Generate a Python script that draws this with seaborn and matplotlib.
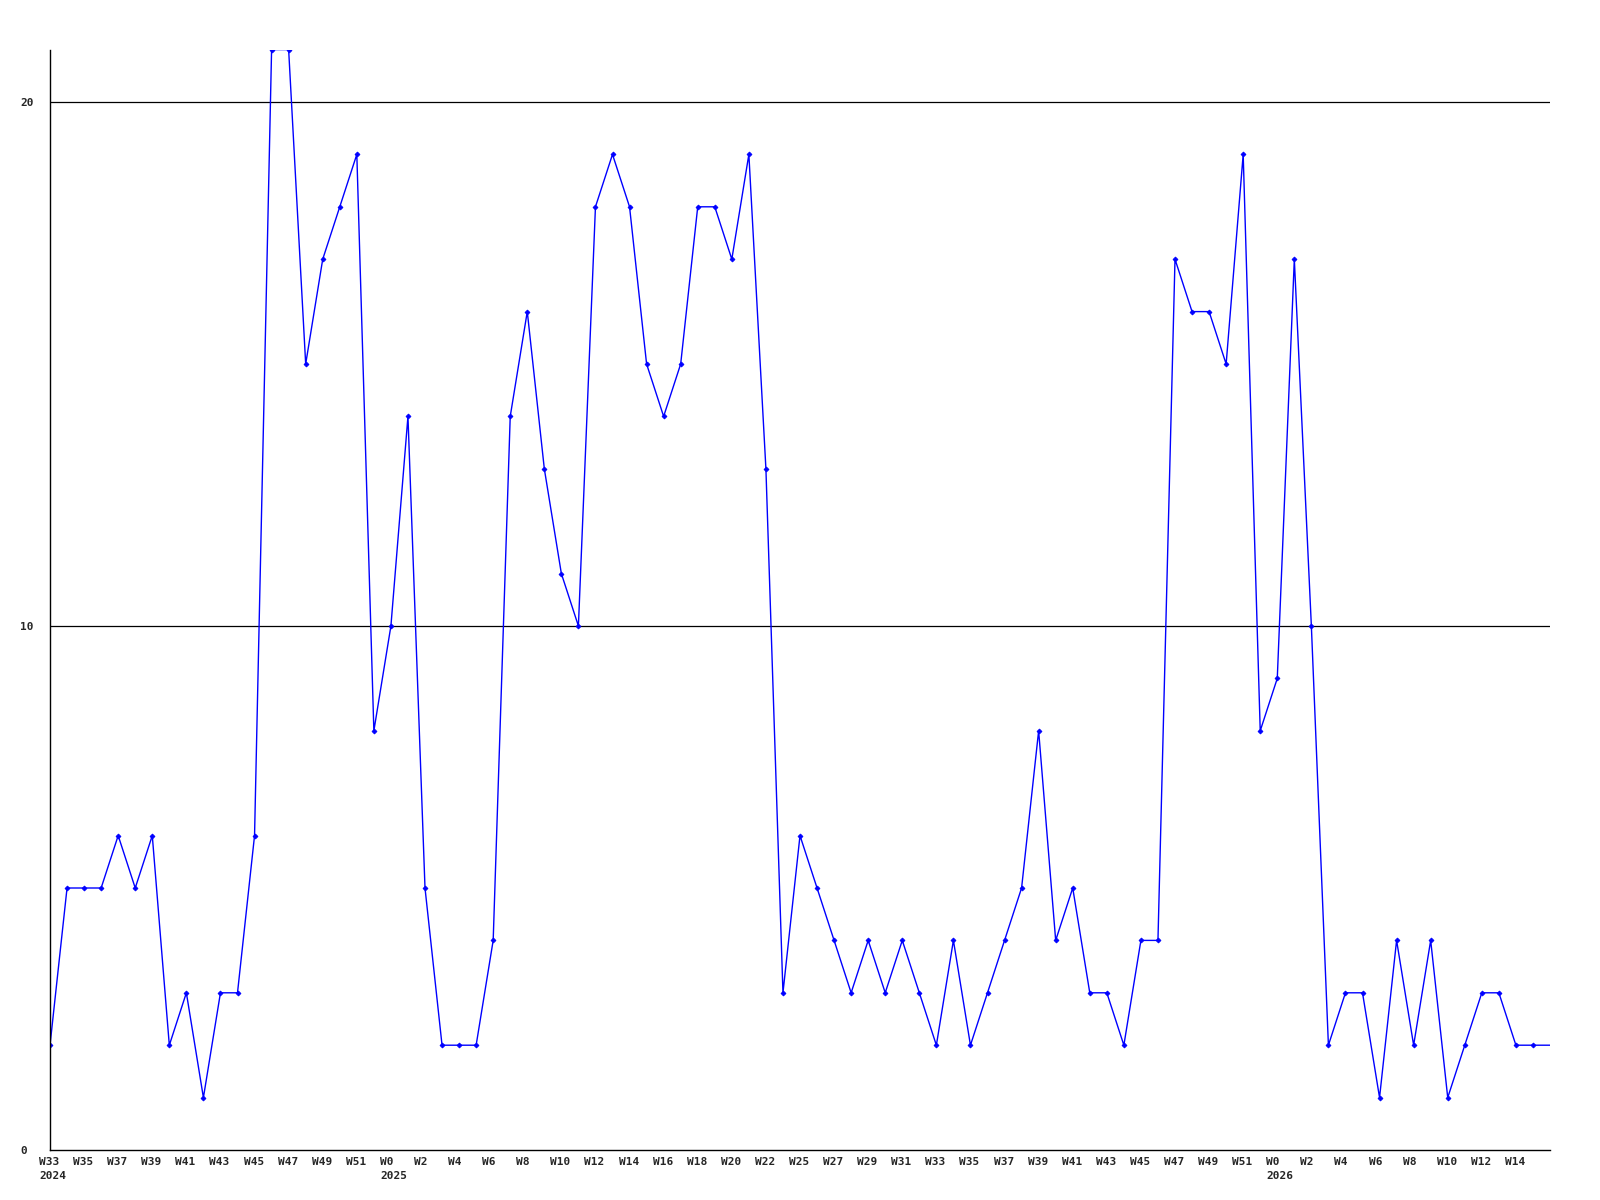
import numpy as np
import pandas as pd
import matplotlib
matplotlib.use("Agg")
import matplotlib.pyplot as plt
import matplotlib.transforms as mtransforms
import seaborn as sns

# week numbers per year (W24 of 2025 is missing in the data)
weeks_2024 = list(range(33, 53))
weeks_2025 = list(range(0, 24)) + list(range(25, 53))
weeks_2026 = list(range(0, 17))
weeks = weeks_2024 + weeks_2025 + weeks_2026
years = [2024] * len(weeks_2024) + [2025] * len(weeks_2025) + [2026] * len(weeks_2026)

values = [2, 5, 5, 5, 6, 5, 6, 2, 3, 1, 3, 3, 6, 21, 21, 15, 17, 18, 19, 8,
          10, 14, 5, 2, 2, 2, 4, 14, 16, 13, 11, 10, 18, 19, 18, 15, 14, 15, 18, 18,
          17, 19, 13, 3, 6, 5, 4, 3, 4, 3, 4, 3, 2, 4, 2, 3, 4, 5, 8, 4,
          5, 3, 3, 2, 4, 4, 17, 16, 16, 15, 19, 8, 9, 17, 10, 2, 3, 3, 1, 4,
          2, 4, 1, 2, 3, 3, 2, 2, 2]

df = pd.DataFrame({"pos": np.arange(len(values)), "week": weeks, "year": years, "value": values})

sns.set_style("white")
plt.rcParams['font.family'] = ['DejaVu Sans Mono']

fig = plt.figure(figsize=(16, 12), dpi=100)
ax = fig.add_axes([50 / 1600, 1 - 1150 / 1200, 1500 / 1600, 1100.4 / 1200])

# last week is incomplete: no marker on it
sns.lineplot(data=df, x="pos", y="value", color="blue", linewidth=1.0,
             marker="D", markersize=2.5, markeredgewidth=0.6, markeredgecolor="blue",
             markevery=list(range(len(values) - 1)), ax=ax)

ax.set_xlim(0, len(values) - 1)
ax.set_ylim(0, 21)

ax.set_yticks([0, 10, 20])
ax.set_yticklabels(["0", "10", "20"], fontweight="bold", fontsize=8)
for lab in ax.get_yticklabels():
    lab.set_ha("left")
ax.tick_params(axis="y", length=0, pad=21.6)

ax.grid(False)
for v in [10, 20]:
    ax.axhline(v, color="black", linewidth=0.9, zorder=0)

tick_pos = list(range(0, len(values) - 2, 2))
tick_labels = []
prev_year = None
for p in tick_pos:
    lab = "W%d" % df["week"][p]
    if df["year"][p] != prev_year:
        lab += "\n%d" % df["year"][p]
        prev_year = df["year"][p]
    tick_labels.append(lab)
ax.set_xticks(tick_pos)
ax.set_xticklabels(tick_labels, fontweight="bold", fontsize=8, linespacing=1.5)
ax.tick_params(axis="x", length=0, pad=5)
offset = mtransforms.ScaledTranslation(-11 / 100, 0, fig.dpi_scale_trans)
for lab in ax.get_xticklabels():
    lab.set_ha("left")
    lab.set_multialignment("left")
    lab.set_transform(lab.get_transform() + offset)

ax.set_xlabel("")
ax.set_ylabel("")
sns.despine(ax=ax)
for s in ["left", "bottom"]:
    ax.spines[s].set_color("black")
    ax.spines[s].set_linewidth(1.0)

fig.savefig("out.png", dpi=100)
